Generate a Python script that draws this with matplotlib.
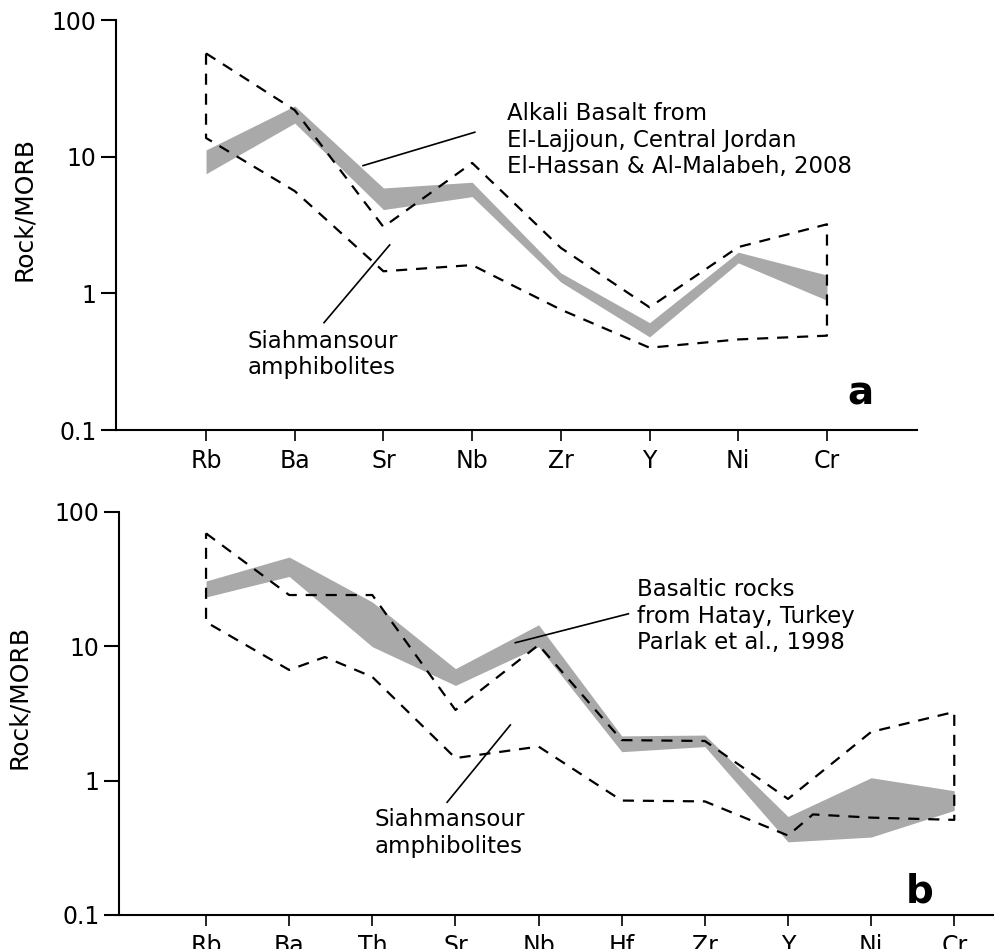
import matplotlib
matplotlib.use("Agg")
import matplotlib.pyplot as plt

# panel a: Siahmansour amphibolites vs alkali basalt (El-Lajjoun)
elems_a = ["Rb", "Ba", "Sr", "Nb", "Zr", "Y", "Ni", "Cr"]
band_a_hi = [11.2, 23.5, 5.9, 6.5, 1.41, 0.61, 2.0, 1.36]
band_a_lo = [7.5, 17.6, 4.1, 5.1, 1.21, 0.48, 1.67, 0.89]
env_a_hi = [57, 21.9, 3.06, 9.0, 2.15, 0.79, 2.18, 3.2]
env_a_lo = [13.7, 5.6, 1.45, 1.61, 0.76, 0.40, 0.46, 0.49]

# panel b: Siahmansour amphibolites vs Hatay basalts
elems_b = ["Rb", "Ba", "Th", "Sr", "Nb", "Hf", "Zr", "Y", "Ni", "Cr"]
band_b_hi = [30.5, 46, 21.3, 6.8, 14.4, 2.15, 2.18, 0.54, 1.05, 0.84]
band_b_lo = [23.2, 33, 9.9, 5.1, 9.9, 1.64, 1.79, 0.35, 0.38, 0.60]
env_b_hi = [69, 24, 24, 3.35, 10.2, 2.0, 1.97, 0.73, 2.3, 3.24]
# lower envelope has two extra bends between the element ticks
env_b_lo_x = [1, 2, 2.43, 3, 4, 5, 6, 7, 8, 8.3, 9, 10]
env_b_lo = [15.1, 6.65, 8.3, 5.9, 1.47, 1.79, 0.71, 0.70, 0.39, 0.56, 0.53, 0.51]

# leader lines (data coords)
lead_a1 = ([2.77, 4.03], [8.6, 15.1])
lead_a2 = ([3.07, 2.33], [2.26, 0.61])
lead_b1 = ([4.72, 6.08], [10.6, 17.4])
lead_b2 = ([4.66, 3.90], [2.59, 0.69])

GRAY = "#a9a9a9"
FS = 17     # tick labels
AFS = 16.5  # annotation text

fig = plt.figure(figsize=(9.95, 9.49), dpi=100)
ax1 = fig.add_axes([116 / 995, 1 - 430 / 949, 801 / 995, 410 / 949])
ax2 = fig.add_axes([119 / 995, 1 - 915 / 949, 876 / 995, 403.3 / 949])


def style(ax, names, xlim):
    ax.set_yscale("log")
    ax.set_ylim(0.1, 100)
    ax.set_xlim(*xlim)
    ax.set_yticks([0.1, 1, 10, 100])
    ax.set_yticklabels(["0.1", "1", "10", "100"])
    ax.minorticks_off()
    ax.set_xticks(range(1, len(names) + 1))
    ax.set_xticklabels(names)
    for s in ["top", "right"]:
        ax.spines[s].set_visible(False)
    for s in ["left", "bottom"]:
        ax.spines[s].set_linewidth(1.5)
    ax.tick_params(axis="y", direction="out", length=11, width=1.5, pad=3, labelsize=FS)
    ax.tick_params(axis="x", direction="out", length=8, width=1.2, pad=6, labelsize=FS)
    ax.set_ylabel("Rock/MORB", fontsize=18)
    ax.yaxis.set_label_coords(-0.10, 0.54)


def envelope(ax, xs_hi, hi, xs_lo, lo):
    xs = list(xs_hi) + list(reversed(xs_lo)) + [xs_hi[0]]
    ys = list(hi) + list(reversed(lo)) + [hi[0]]
    ax.plot(xs, ys, color="black", lw=1.6, ls=(0, (5, 4)), zorder=3)


# panel a
xa = list(range(1, len(elems_a) + 1))
style(ax1, elems_a, (-0.015, 9.015))
ax1.fill_between(xa, band_a_lo, band_a_hi, color=GRAY, lw=0, zorder=2)
envelope(ax1, xa, env_a_hi, xa, env_a_lo)
ax1.plot(*lead_a1, color="black", lw=1.2, zorder=4)
ax1.plot(*lead_a2, color="black", lw=1.2, zorder=4)
ax1.text(0.488, 0.80, "Alkali Basalt from\nEl-Lajjoun, Central Jordan\nEl-Hassan & Al-Malabeh, 2008",
         transform=ax1.transAxes, ha="left", va="top", fontsize=AFS, linespacing=1.2)
ax1.text(0.164, 0.245, "Siahmansour\namphibolites", transform=ax1.transAxes,
         ha="left", va="top", fontsize=AFS, linespacing=1.2)
ax1.text(0.929, 0.061, "a", transform=ax1.transAxes, ha="center", va="baseline",
         fontsize=28, fontweight="bold")

# panel b
xb = list(range(1, len(elems_b) + 1))
style(ax2, elems_b, (-0.047, 10.49))
ax2.fill_between(xb, band_b_lo, band_b_hi, color=GRAY, lw=0, zorder=2)
envelope(ax2, xb, env_b_hi, env_b_lo_x, env_b_lo)
ax2.plot(*lead_b1, color="black", lw=1.2, zorder=4)
ax2.plot(*lead_b2, color="black", lw=1.2, zorder=4)
ax2.text(0.591, 0.835, "Basaltic rocks\nfrom Hatay, Turkey\nParlak et al., 1998",
         transform=ax2.transAxes, ha="left", va="top", fontsize=AFS, linespacing=1.2)
ax2.text(0.292, 0.265, "Siahmansour\namphibolites", transform=ax2.transAxes,
         ha="left", va="top", fontsize=AFS, linespacing=1.2)
ax2.text(0.914, 0.032, "b", transform=ax2.transAxes, ha="center", va="baseline",
         fontsize=28, fontweight="bold")

fig.savefig("out.png", dpi=100)
